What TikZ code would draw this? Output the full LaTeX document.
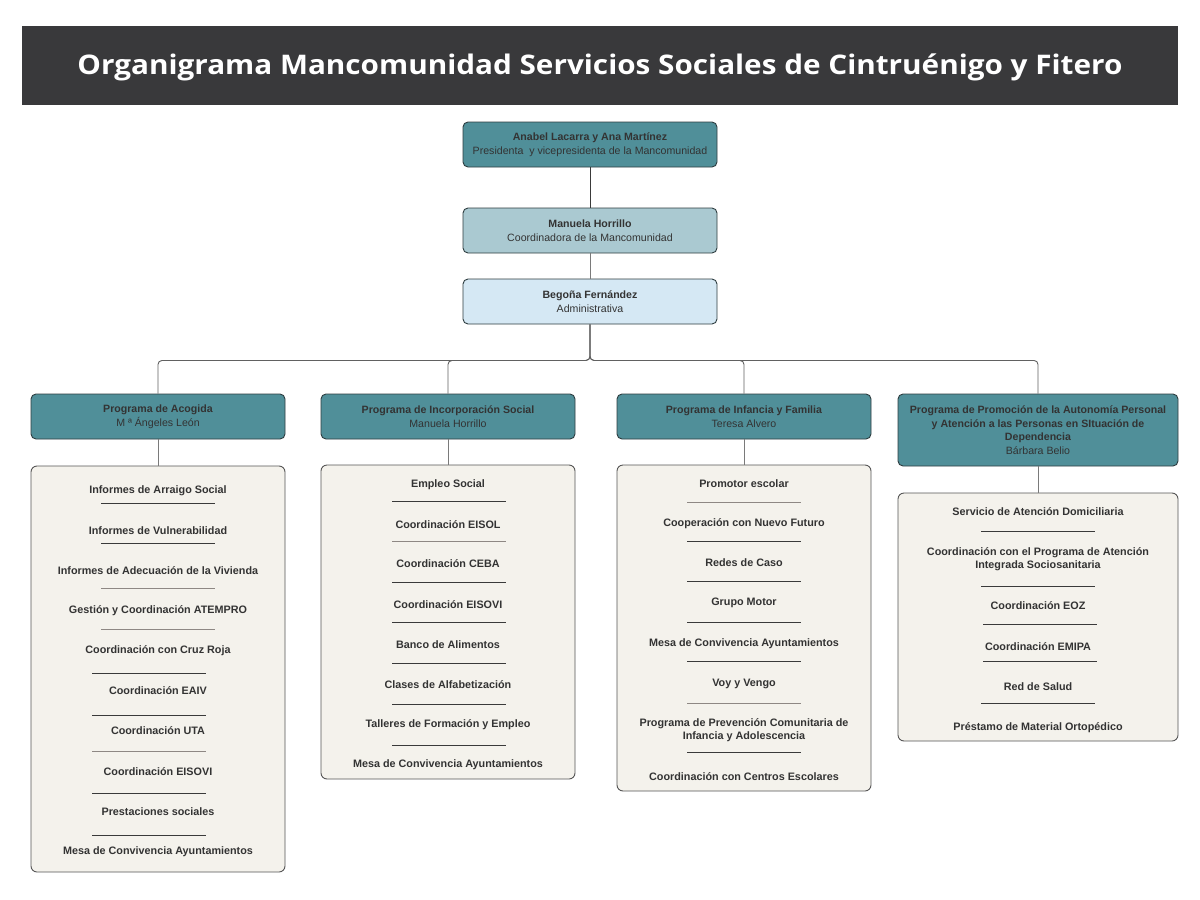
\documentclass[tikz,border=0pt]{standalone}
\usepackage{fontspec}
\setmainfont{Liberation Sans}
\newfontfamily\titlefont{Open Sans}
\definecolor{titlebg}{HTML}{39393B}
\definecolor{tealbox}{HTML}{508F99}
\definecolor{midbox}{HTML}{AAC9D1}
\definecolor{lightbox}{HTML}{D5E8F4}
\definecolor{cream}{HTML}{F4F2EC}
\definecolor{boxborder}{HTML}{2E3D40}
\definecolor{listborder}{HTML}{555555}
\definecolor{txt}{HTML}{333333}
\definecolor{sepdark}{HTML}{3A3A3A}
\definecolor{seplight}{HTML}{8E8884}
\definecolor{linedark}{HTML}{3A3A3A}
\definecolor{linegray}{HTML}{7A7A7A}
\newcommand\itemfnt{\fontsize{10.8}{13.5}\selectfont\bfseries}
\newcommand\boxfnt{\fontsize{10.6}{14}\selectfont}
\begin{document}
\begin{tikzpicture}[x=1pt,y=-1pt,
  topbox/.style={draw=boxborder, rounded corners=5pt, minimum width=254pt, minimum height=45pt, align=center, text=txt, inner sep=0pt, line width=0.9pt, font=\boxfnt},
  progbox/.style={topbox, fill=tealbox},
  listbox/.style={draw=listborder, fill=cream, rounded corners=6pt, line width=0.9pt, inner sep=0pt},
  item/.style={font=\itemfnt, text=txt, align=center, inner sep=0pt, yshift=-1.5pt},
  sepd/.style={draw=sepdark, line width=0.9pt},
  sepl/.style={draw=seplight, line width=0.9pt},
  conn/.style={draw=linegray, line width=0.9pt},
  bus/.style={draw=linedark!80!white, line width=0.9pt, rounded corners=4pt}]
\useasboundingbox (0,0) rectangle (1200,900);
\fill[white] (0,0) rectangle (1200,900);
% title
\node[fill=titlebg, minimum width=1156pt, minimum height=79pt, inner sep=0pt] (title) at (600,65.5) {};
\node[text=white, font=\titlefont\bfseries\fontsize{27}{30}\selectfont, inner sep=0pt] (titletext) at (600,67) {\scalebox{1.10}[1]{Organigrama Mancomunidad Servicios Sociales de Cintruénigo y Fitero}};
% top boxes
\node[topbox, fill=tealbox] (b1) at (590,144.5) {\textbf{Anabel Lacarra y Ana Martínez}\\Presidenta\ \ y vicepresidenta de la Mancomunidad};
\node[topbox, fill=midbox] (b2) at (590,230.5) {\textbf{Manuela Horrillo}\\Coordinadora de la Mancomunidad};
\node[topbox, fill=lightbox] (b3) at (590,301.5) {\textbf{Begoña Fernández}\\Administrativa};
\draw[draw=linedark, line width=0.9pt] (b1.south) -- (b2.north);
\draw[conn] (b2.south) -- (b3.north);
% program boxes
\node[progbox] (p1) at (158,416.5) {\textbf{Programa de Acogida}\\M ª Ángeles León};
\node[progbox] (p2) at (448,416.5) {\textbf{Programa de Incorporación Social}\\Manuela Horrillo};
\node[progbox] (p3) at (744,416.5) {\textbf{Programa de Infancia y Familia}\\Teresa Alvero};
\node[progbox, minimum width=280pt, minimum height=72pt, font=\fontsize{10.6}{13.5}\selectfont] (p4) at (1038,430) {\textbf{Programa de Promoción de la Autonomía Personal}\\\textbf{y Atención a las Personas en SItuación de}\\\textbf{Dependencia}\\Bárbara Belio};
% bus
\draw[bus] (b3.south) -- ++(0,36) -| (p1.north);
\draw[bus] (b3.south) -- ++(0,36) -| (p2.north);
\draw[bus] (b3.south) -- ++(0,36) -| (p3.north);
\draw[bus] (b3.south) -- ++(0,36) -| (p4.north);
% list boxes
\node[listbox, minimum width=254pt, minimum height=406pt] (l1) at (158,669) {};
\node[listbox, minimum width=254pt, minimum height=314pt] (l2) at (448,622) {};
\node[listbox, minimum width=254pt, minimum height=326pt] (l3) at (744,628) {};
\node[listbox, minimum width=280pt, minimum height=248pt] (l4) at (1038,617) {};
\draw[conn] (p1.south) -- (l1.north);
\draw[conn] (p2.south) -- (l2.north);
\draw[conn] (p3.south) -- (l3.north);
\draw[conn] (p4.south) -- (l4.north);
% list 1
\node[item] (a1) at (158,489) {Informes de Arraigo Social};
\node[item] (a2) at (158,529) {Informes de Vulnerabilidad};
\node[item] (a3) at (158,569) {Informes de Adecuación de la Vivienda};
\node[item] (a4) at (158,609) {Gestión y Coordinación ATEMPRO};
\node[item] (a5) at (158,649) {Coordinación con Cruz Roja};
\node[item] (a6) at (158,689) {Coordinación EAIV};
\node[item] (a7) at (158,729) {Coordinación UTA};
\node[item] (a8) at (158,770) {Coordinación EISOVI};
\node[item] (a9) at (158,810) {Prestaciones sociales};
\node[item] (a10) at (158,850) {Mesa de Convivencia Ayuntamientos};
\draw[sepd] (101,503) -- (215,503);
\draw[sepd] (101,543) -- (215,543);
\draw[sepl] (101,588) -- (215,588);
\draw[sepl] (101,629) -- (215,629);
\draw[sepd] (92,673) -- (206,673);
\draw[sepd] (92,715) -- (206,715);
\draw[sepl] (92,751) -- (206,751);
\draw[sepd] (92,793) -- (206,793);
\draw[sepd] (92,835) -- (206,835);
% list 2
\node[item] (c1) at (448,483) {Empleo Social};
\node[item] (c2) at (448,523) {Coordinación EISOL};
\node[item] (c3) at (448,562) {Coordinación CEBA};
\node[item] (c4) at (448,603) {Coordinación EISOVI};
\node[item] (c5) at (448,643) {Banco de Alimentos};
\node[item] (c6) at (448,683) {Clases de Alfabetización};
\node[item] (c7) at (448,723) {Talleres de Formación y Empleo};
\node[item] (c8) at (448,763) {Mesa de Convivencia Ayuntamientos};
\draw[sepd] (392,501) -- (506,501);
\draw[sepl] (392,541) -- (506,541);
\draw[sepd] (392,582) -- (506,582);
\draw[sepd] (392,622) -- (506,622);
\draw[sepd] (392,663) -- (506,663);
\draw[sepd] (392,704) -- (506,704);
\draw[sepd] (392,745) -- (506,745);
% list 3
\node[item] (d1) at (744,482) {Promotor escolar};
\node[item] (d2) at (744,522) {Cooperación con Nuevo Futuro};
\node[item] (d3) at (744,561) {Redes de Caso};
\node[item] (d4) at (744,601) {Grupo Motor};
\node[item] (d5) at (744,642) {Mesa de Convivencia Ayuntamientos};
\node[item] (d6) at (744,682) {Voy y Vengo};
\node[item] (d7) at (744,728.5) {Programa de Prevención Comunitaria de\\Infancia y Adolescencia};
\node[item] (d8) at (744,775) {Coordinación con Centros Escolares};
\draw[sepl] (687,502) -- (801,502);
\draw[sepd] (687,541) -- (801,541);
\draw[sepd] (687,581) -- (801,581);
\draw[sepd] (687,622) -- (801,622);
\draw[sepd] (687,661) -- (801,661);
\draw[sepl] (687,703) -- (801,703);
\draw[sepd] (687,752) -- (801,752);
% list 4
\node[item] (e1) at (1038,510) {Servicio de Atención Domiciliaria};
\node[item] (e2) at (1038,557.5) {Coordinación con el Programa de Atención\\Integrada Sociosanitaria};
\node[item] (e3) at (1038,604) {Coordinación EOZ};
\node[item] (e4) at (1038,645) {Coordinación EMIPA};
\node[item] (e5) at (1038,685) {Red de Salud};
\node[item] (e6) at (1038,726) {Préstamo de Material Ortopédico};
\draw[sepd] (981,531) -- (1095,531);
\draw[sepd] (981,586) -- (1095,586);
\draw[sepd] (983,624) -- (1097,624);
\draw[sepd] (983,661) -- (1097,661);
\draw[sepd] (981,703) -- (1095,703);
\end{tikzpicture}
\end{document}
